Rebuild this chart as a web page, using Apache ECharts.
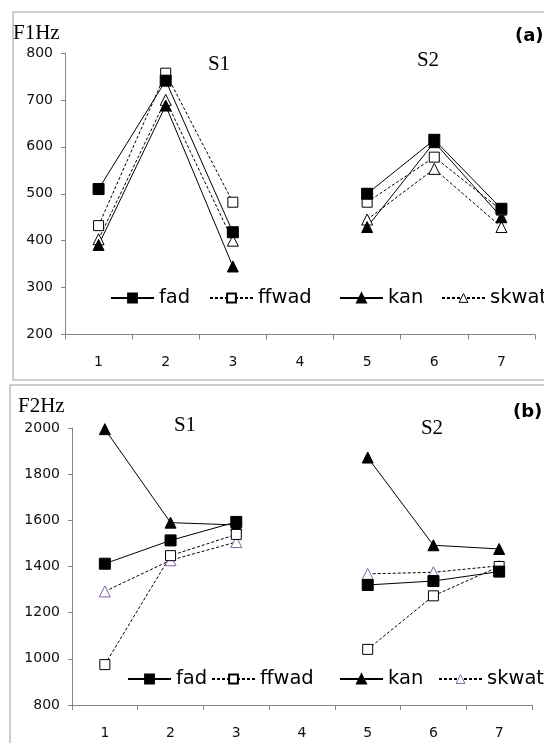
<!DOCTYPE html>
<html>
<head>
<meta charset="utf-8">
<script src="https://cdn.jsdelivr.net/npm/echarts@6/dist/echarts.min.js"></script>
<style>
html,body{margin:0;padding:0;background:#fff;}
#c{width:544px;height:743px;}
</style>
</head>
<body>
<div id="c"></div>
<script>
// ---- data ----
var categories = ['1', '2', '3', '4', '5', '6', '7'];
var seriesNames = ['fad', 'ffwad', 'kan', 'skwat'];

// Panel (a): F1 (Hz)
var fadF1   = [510, 741, 418, null, 500, 615, 468];
var ffwadF1 = [432, 757, 482, null, 482, 578, 465];
var kanF1   = [391, 688, 345, null, 429, 610, 450];
var skwatF1 = [403, 700, 400, null, 445, 553, 429];

// Panel (b): F2 (Hz)
var fadF2   = [1412, 1513, 1593, null, 1320, 1337, 1378];
var ffwadF2 = [975, 1447, 1539, null, 1041, 1273, 1400];
var kanF2   = [1995, 1590, 1580, null, 1872, 1492, 1476];
var skwatF2 = [1292, 1427, 1506, null, 1368, 1375, 1403];

// ---- chart ----
var chart = echarts.init(document.getElementById('c'), null, {renderer: 'canvas'});
var AX = '#868686';
var sans = 'DejaVu Sans';

function xAxis(gi) {
  return {
    type: 'category', gridIndex: gi, data: categories, boundaryGap: true,
    axisLine: {show: true, lineStyle: {color: AX, width: 1}},
    axisTick: {show: true, length: 5, lineStyle: {color: AX}},
    axisLabel: {color: '#111', fontFamily: sans, fontSize: 14, margin: 21},
    splitLine: {show: false}
  };
}
function yAxis(gi, mn, mx, step) {
  return {
    type: 'value', gridIndex: gi, min: mn, max: mx, interval: step,
    axisLine: {show: true, lineStyle: {color: AX, width: 1}},
    axisTick: {show: true, length: 4, lineStyle: {color: AX}},
    axisLabel: {color: '#111', fontFamily: sans, fontSize: 14, margin: 12,
      formatter: function (v) { return String(v); }},
    splitLine: {show: false}
  };
}
var solid = {color: '#000', width: 1, type: 'solid'};
var dashed = {color: '#000', width: 1, type: [3, 2]};

function mk(name, gi, data, symbol, size, itemStyle, lineStyle) {
  return {
    name: name, type: 'line', xAxisIndex: gi, yAxisIndex: gi, data: data,
    symbol: symbol, symbolSize: size, showSymbol: true, connectNulls: false,
    itemStyle: itemStyle, lineStyle: lineStyle, emphasis: {disabled: true},
    animation: false
  };
}
var fillBlack = {color: '#000', borderColor: '#000', borderWidth: 1};
var hollow = {color: '#fff', borderColor: '#000', borderWidth: 1};
var hollowPurple = {color: '#fff', borderColor: '#8064A2', borderWidth: 1};

// one legend component per item so each can be placed like the reference
function legendItem(name, left, top, style) {
  var d = {name: name};
  if (style) d.itemStyle = style;
  return {
    left: left, top: top, orient: 'horizontal', padding: 0,
    itemWidth: 43, itemHeight: 11, itemGap: 0,
    textStyle: {fontFamily: sans, fontSize: 19.5, color: '#000'},
    selectedMode: false,
    data: [d]
  };
}
var legAX = [110, 209, 339, 441];
var legBX = [127, 211, 339, 438];
var legends = [];
for (var i = 0; i < 4; i++) {
  legends.push(legendItem(seriesNames[i], legAX[i], 288, i === 3 ? hollow : null));
}
for (var j = 0; j < 4; j++) {
  legends.push(legendItem(seriesNames[j], legBX[j], 669, j === 3 ? hollowPurple : null));
}

var option = {
  backgroundColor: '#fff',
  animation: false,
  grid: [
    {left: 65, top: 53, width: 470, height: 281.5},
    {left: 72, top: 428, width: 460, height: 277}
  ],
  xAxis: [xAxis(0), xAxis(1)],
  yAxis: [yAxis(0, 200, 800, 100), yAxis(1, 800, 2000, 200)],
  legend: legends,
  series: [
    mk('skwat', 0, skwatF1, 'triangle', 11, hollow, dashed),
    mk('kan', 0, kanF1, 'triangle', 11, fillBlack, solid),
    mk('ffwad', 0, ffwadF1, 'rect', 10, hollow, dashed),
    mk('fad', 0, fadF1, 'rect', 11, fillBlack, solid),
    mk('skwat', 1, skwatF2, 'triangle', 11, hollowPurple, dashed),
    mk('kan', 1, kanF2, 'triangle', 11, fillBlack, solid),
    mk('ffwad', 1, ffwadF2, 'rect', 10, hollow, dashed),
    mk('fad', 1, fadF2, 'rect', 11, fillBlack, solid)
  ],
  graphic: [
    {type: 'rect', shape: {x: 13, y: 12, width: 700, height: 368}, style: {fill: 'none', stroke: '#999', lineWidth: 1}, silent: true},
    {type: 'rect', shape: {x: 10, y: 385, width: 700, height: 500}, style: {fill: 'none', stroke: '#999', lineWidth: 1}, silent: true},
    {type: 'text', x: 13, y: 33, style: {text: 'F1Hz', font: '21px "Liberation Serif"', fill: '#000', textVerticalAlign: 'middle'}},
    {type: 'text', x: 219, y: 64, style: {text: 'S1', font: '21px "Liberation Serif"', fill: '#000', textAlign: 'center', textVerticalAlign: 'middle'}},
    {type: 'text', x: 428, y: 60, style: {text: 'S2', font: '21px "Liberation Serif"', fill: '#000', textAlign: 'center', textVerticalAlign: 'middle'}},
    {type: 'text', x: 515, y: 36, style: {text: '(a)', font: 'bold 18px "DejaVu Sans"', fill: '#000', textVerticalAlign: 'middle'}},
    {type: 'text', x: 18, y: 406, style: {text: 'F2Hz', font: '21px "Liberation Serif"', fill: '#000', textVerticalAlign: 'middle'}},
    {type: 'text', x: 185, y: 425, style: {text: 'S1', font: '21px "Liberation Serif"', fill: '#000', textAlign: 'center', textVerticalAlign: 'middle'}},
    {type: 'text', x: 432, y: 428, style: {text: 'S2', font: '21px "Liberation Serif"', fill: '#000', textAlign: 'center', textVerticalAlign: 'middle'}},
    {type: 'text', x: 513, y: 412, style: {text: '(b)', font: 'bold 18px "DejaVu Sans"', fill: '#000', textVerticalAlign: 'middle'}}
  ]
};
chart.setOption(option);
</script>
</body>
</html>
